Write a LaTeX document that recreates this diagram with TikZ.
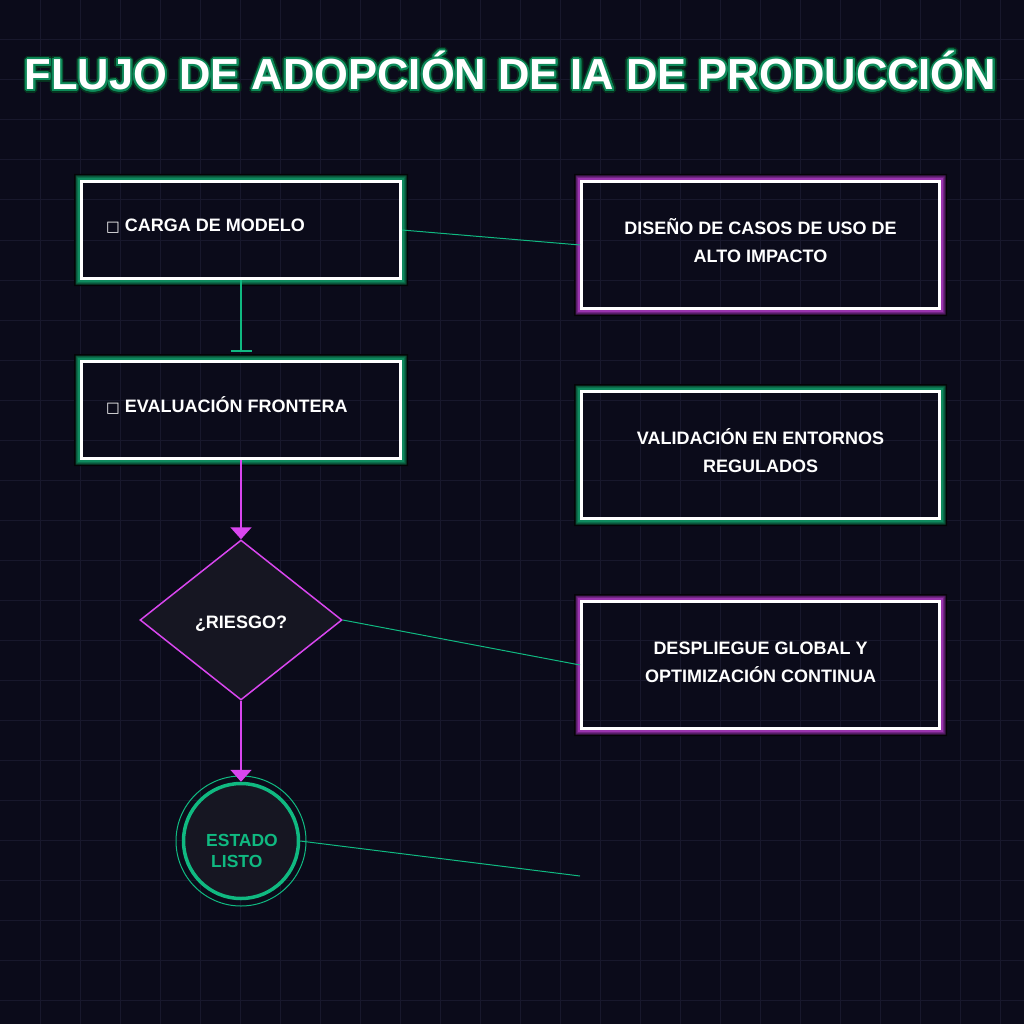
\documentclass[tikz,border=0pt]{standalone}
\usepackage{fontspec}
\setmainfont{Liberation Sans}
\newfontfamily\dejavu{DejaVu Sans}
\usetikzlibrary{shapes.geometric,arrows.meta,calc}
\definecolor{bg}{HTML}{0B0B1A}
\definecolor{gridc}{HTML}{18182C}
\definecolor{emer}{HTML}{10B981}
\definecolor{mag}{HTML}{D946EF}
\definecolor{nodefill}{HTML}{161622}
\definecolor{gA}{HTML}{0A4A33}
\definecolor{gB}{HTML}{0C6C4A}
\definecolor{gC}{HTML}{0F8A5E}
\definecolor{pA}{HTML}{4A1A5A}
\definecolor{pB}{HTML}{6E2580}
\definecolor{pC}{HTML}{9A34AE}
\definecolor{glowk}{HTML}{040406}
\definecolor{ttlA}{HTML}{06331F}
\definecolor{ttlB}{HTML}{0E8A5A}
\newcommand\glowframe[4]{%
  \fill[glowk, even odd rule] ([shift={(-6,-6)}]#1.north west) rectangle ([shift={(6,6)}]#1.south east) (#1.north west) rectangle (#1.south east);
  \fill[#2, even odd rule] ([shift={(-4.5,-4.5)}]#1.north west) rectangle ([shift={(4.5,4.5)}]#1.south east) (#1.north west) rectangle (#1.south east);
  \fill[#3, even odd rule] ([shift={(-3.3,-3.3)}]#1.north west) rectangle ([shift={(3.3,3.3)}]#1.south east) (#1.north west) rectangle (#1.south east);
  \fill[#4, even odd rule] ([shift={(-2.2,-2.2)}]#1.north west) rectangle ([shift={(2.2,2.2)}]#1.south east) (#1.north west) rectangle (#1.south east);
  \draw[white, line width=3pt] ([shift={(1.5,1.5)}]#1.north west) rectangle ([shift={(-1.5,-1.5)}]#1.south east);
}
\begin{document}
\begin{tikzpicture}[x=1pt,y=-1pt,
  boxnode/.style={rectangle, inner sep=0pt, outer sep=0pt},
  lbl/.style={text=white, font=\bfseries\fontsize{18}{22}\selectfont, inner sep=0pt, anchor=base},
  lblw/.style={lbl, anchor=base west},
  grn/.style={text=emer, font=\bfseries\fontsize{17.5}{21}\selectfont, inner sep=0pt, anchor=base west},
  thinlink/.style={emer, line width=1pt},
  maglink/.style={mag, line width=2pt, -{Triangle[width=21pt,length=12pt]}},
  ttl/.style={font=\bfseries\fontsize{43.5}{50}\selectfont, inner sep=0pt, anchor=base}
]
\useasboundingbox (0,0) rectangle (1024,1024);
\fill[bg] (0,0) rectangle (1024,1024);
\foreach \i in {40,80,...,1000} {
  \draw[gridc, line width=1pt] (\i,0) -- (\i,1024);
  \draw[gridc, line width=1pt] (0,\i) -- (1024,\i);
}
% title with outline
\foreach \a in {0,22.5,...,359} {
  \node[ttl, text=ttlA] at ($(510.5,90)+(\a:3.6)$) {FLUJO DE ADOPCIÓN DE IA DE PRODUCCIÓN};
}
\foreach \a in {0,22.5,...,359} {
  \node[ttl, text=ttlB] at ($(510.5,90)+(\a:2)$) {FLUJO DE ADOPCIÓN DE IA DE PRODUCCIÓN};
}
\node[ttl, text=white] (title) at (510.5,90) {FLUJO DE ADOPCIÓN DE IA DE PRODUCCIÓN};

% box nodes
\node[boxnode, minimum width=322pt, minimum height=100pt] (b1) at (241,230) {};
\node[boxnode, minimum width=322pt, minimum height=100pt] (b2) at (241,410) {};
\node[boxnode, minimum width=361pt, minimum height=130pt] (r1) at (760.5,245) {};
\node[boxnode, minimum width=361pt, minimum height=130pt] (r2) at (760.5,455) {};
\node[boxnode, minimum width=361pt, minimum height=130pt] (r3) at (760.5,665) {};
\node[diamond, draw=mag, fill=nodefill, line width=1.5pt, inner sep=0pt, minimum width=202pt, minimum height=160pt] (d) at (241,620) {};
\draw[emer, line width=1pt] (241,841) circle (65);
\node[circle, draw=emer, fill=nodefill, line width=3.5pt, inner sep=0pt, minimum size=115pt] (c) at (241,841) {};
\coordinate (free) at (580,876);

\glowframe{b1}{gA}{gB}{gC}
\glowframe{b2}{gA}{gB}{gC}
\glowframe{r1}{pA}{pB}{pC}
\glowframe{r2}{gA}{gB}{gC}
\glowframe{r3}{pA}{pB}{pC}

% connectors
\draw[emer, line width=2pt, -{Bar[width=21pt,line width=2pt]}, shorten >=8pt] (b1.south) -- (b2.north);
\draw[maglink] (b2.south) -- (d.north);
\draw[maglink] (d.south) -- (c.north);
\draw[thinlink] (b1.east) -- (r1.west);
\draw[thinlink] (d.east) -- (r3.west);
\draw[thinlink] (c.east) -- (free);

% texts
\node[lblw] (t1) at (106,231.7) {{\dejavu\mdseries\fontsize{14.5}{14}\selectfont □} CARGA DE MODELO};
\node[lblw] (t2) at (106,412) {{\dejavu\mdseries\fontsize{14.5}{14}\selectfont □} EVALUACIÓN FRONTERA};
\node[lbl] (t3a) at (760.5,234) {DISEÑO DE CASOS DE USO DE};
\node[lbl] (t3b) at (760.5,262) {ALTO IMPACTO};
\node[lbl] (t4a) at (760.5,444) {VALIDACIÓN EN ENTORNOS};
\node[lbl] (t4b) at (760.5,472) {REGULADOS};
\node[lbl] (t5a) at (760.5,654) {DESPLIEGUE GLOBAL Y};
\node[lbl] (t5b) at (760.5,682) {OPTIMIZACIÓN CONTINUA};
\node[lbl] (t6) at (241,628) {¿RIESGO?};
\node[grn] (t7a) at (206,846.7) {ESTADO};
\node[grn] (t7b) at (211,867.3) {LISTO};
\end{tikzpicture}
\end{document}
